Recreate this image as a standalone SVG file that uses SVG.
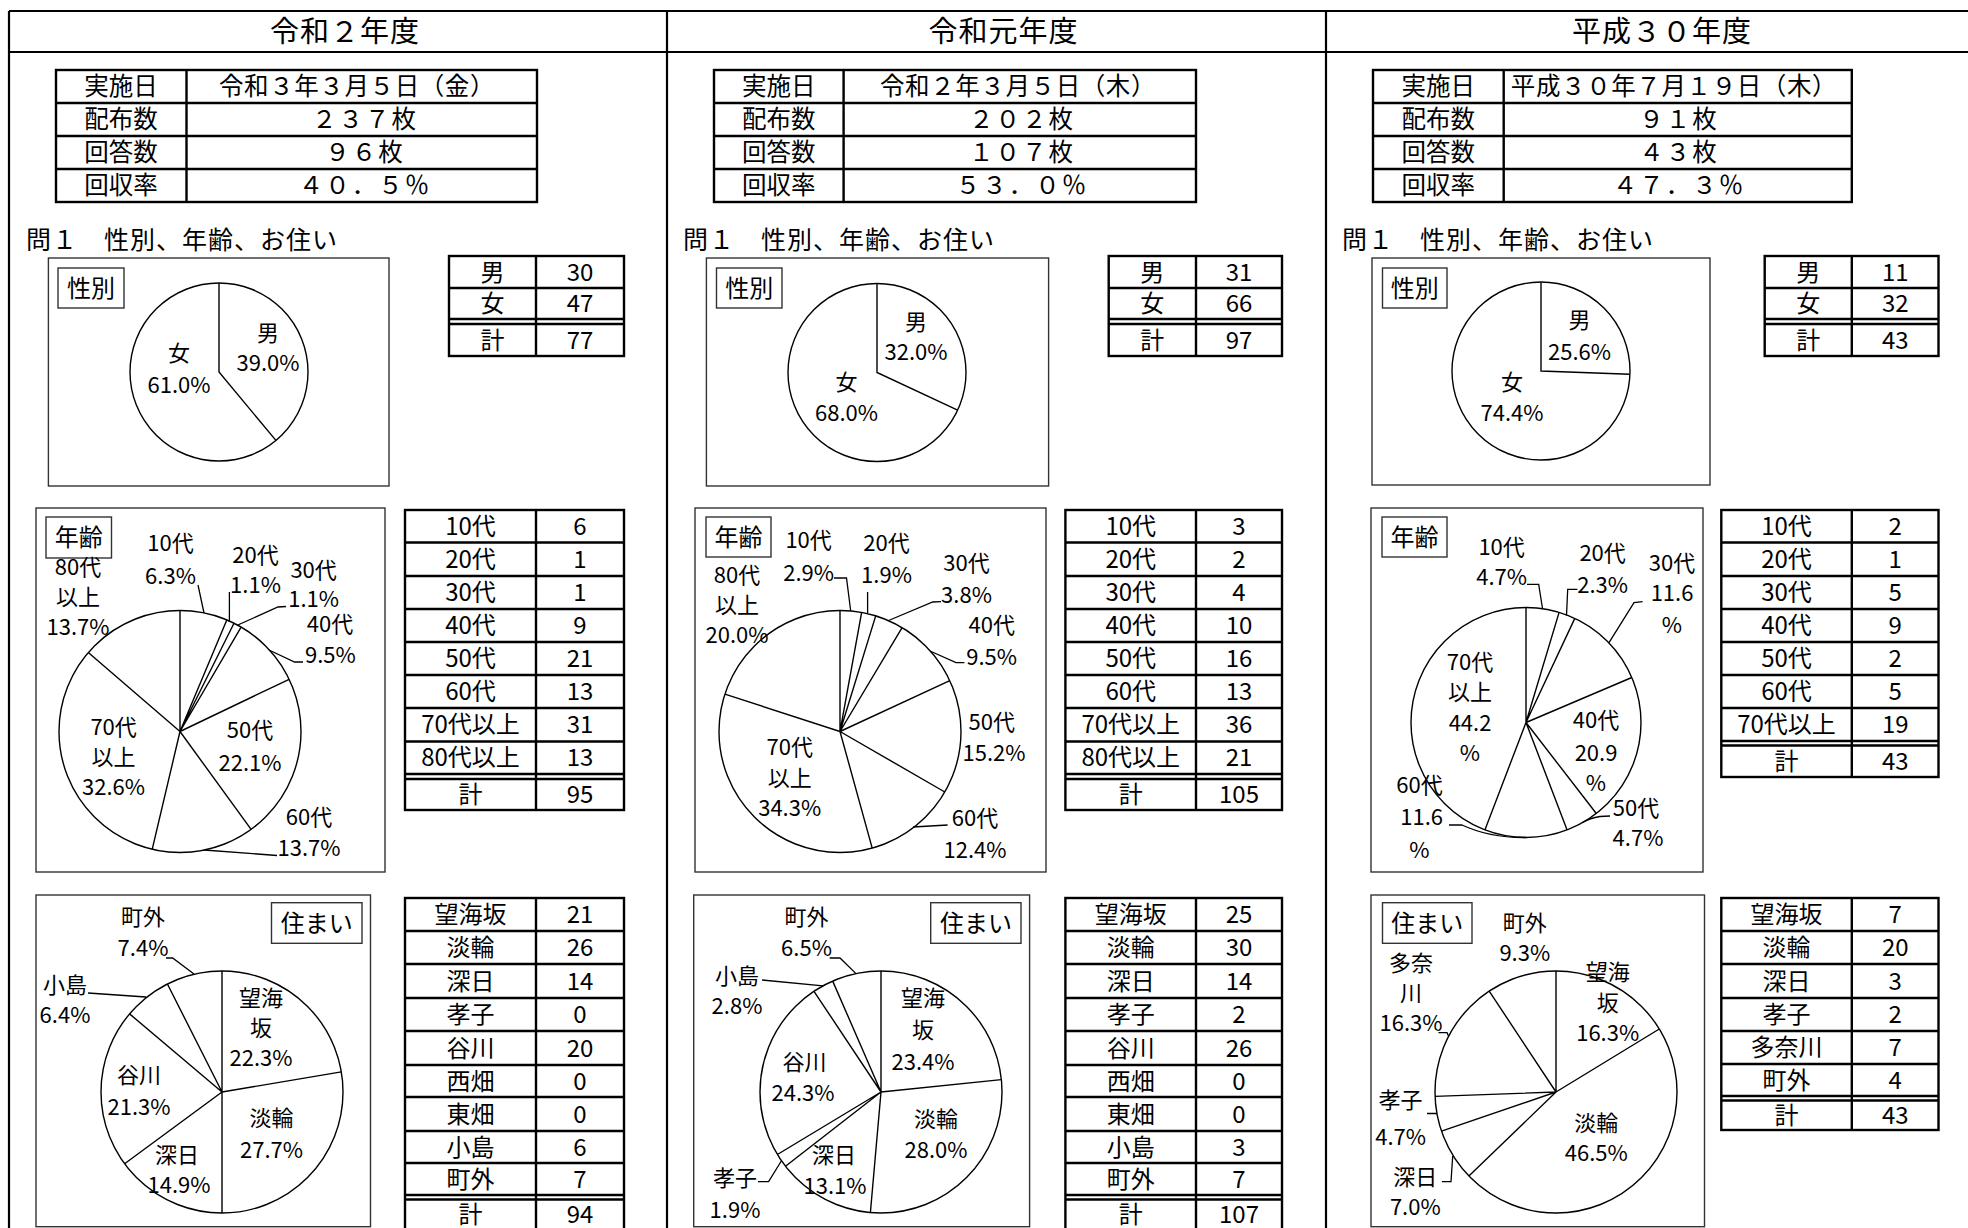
<svg xmlns="http://www.w3.org/2000/svg" width="1968" height="1228" viewBox="0 0 1968 1228">
<style>
text{font-family:'Noto Sans CJK JP','Noto Sans CJK SC',sans-serif;fill:#000;text-anchor:middle}
.ti{font-size:29px;letter-spacing:1px}
.it{font-size:24.5px}
.iv{font-size:24.5px;letter-spacing:2px}
.id{font-size:24.5px;letter-spacing:0.6px}
.q{font-size:25px;text-anchor:start;letter-spacing:1px}
.lb{font-size:24px}
.pl{font-size:22px}
.tt{font-size:24px}
.frame{stroke:#000;stroke-width:2.2;fill:none}
.tbl{stroke:#000;stroke-width:2.4;fill:none}
.box{stroke:#333;stroke-width:1.4;fill:#fff}
.pie{stroke:#000;stroke-width:1.4;fill:#fff}
.lead{stroke:#000;stroke-width:1.3;fill:none}
</style>
<rect x="0" y="0" width="1968" height="1228" fill="#fff"/>
<g id="frame">
<path class="frame" d="M9,11 H1968 M9,52 H1968 M9,11 V1228 M667,11 V1228 M1326,11 V1228"/>
<text class="ti" x="345" y="42">令和２年度</text>
<text class="ti" x="1003.5" y="42">令和元年度</text>
<text class="ti" x="1662" y="42">平成３０年度</text>
</g>

<!-- ============ Column 1 ============ -->
<g id="info1">
<rect class="tbl" x="56" y="70" width="481" height="132"/>
<path class="tbl" d="M186.5,70 V202 M56,103 H537 M56,136 H537 M56,169 H537"/>
<text class="it" x="121" y="95">実施日</text><text class="id" x="357" y="95">令和３年３月５日（金）</text>
<text class="it" x="121" y="128">配布数</text><text class="iv" x="365" y="128">２３７枚</text>
<text class="it" x="121" y="161">回答数</text><text class="iv" x="365" y="161">９６枚</text>
<text class="it" x="121" y="194">回収率</text><text class="iv" x="365" y="194">４０．５％</text>
</g>
<text class="q" x="26" y="248.5">問１　性別、年齢、お住い</text>

<g id="sex1">
<rect class="box" x="48.4" y="258" width="340.6" height="228"/>
<rect class="box" x="58" y="268" width="66" height="40"/>
<text class="lb" x="91" y="296.5">性別</text>
<circle class="pie" cx="219" cy="372" r="89"/>
<path class="pie" d="M219,283 L219,372 L275.9,440.4"/>
<text class="pl" x="268" y="341">男</text><text class="pl" x="268" y="371">39.0%</text>
<text class="pl" x="179" y="361">女</text><text class="pl" x="179" y="393">61.0%</text>
</g>
<g id="sextbl1">
<rect class="tbl" x="449" y="256" width="175" height="100"/>
<path class="tbl" d="M536,256 V356 M449,288 H624 M449,319 H624 M449,324 H624"/>
<text class="tt" x="492.5" y="280.5">男</text><text class="tt" x="580" y="280.5">30</text>
<text class="tt" x="492.5" y="312">女</text><text class="tt" x="580" y="312">47</text>
<text class="tt" x="492.5" y="348.5">計</text><text class="tt" x="580" y="348.5">77</text>
</g>

<g id="age1">
<rect class="box" x="36" y="508" width="349" height="364"/>
<circle class="pie" cx="180" cy="731.5" r="121"/>
<path class="pie" d="M180,610.5 L180,731.5 M180,731.5 L226.8,619.9 M180,731.5 L234,623.2 M180,731.5 L241.1,627.1 M180,731.5 L289.1,679.3 M180,731.5 L251.1,829.4 M180,731.5 L152.2,849.3 M180,731.5 L88.3,652.5"/>
<rect class="box" x="46" y="517" width="65.5" height="41"/>
<text class="lb" x="78.8" y="546">年齢</text>
<path class="lead" d="M198,585 L204,613 M229.4,592 L229.4,622 M286,606.5 L278,607 L237.8,625 M303,662 L294.6,662 L269,650 M277,855.5 L204,850"/>
<text class="pl" x="170.5" y="551">10代</text><text class="pl" x="170.5" y="584">6.3%</text>
<text class="pl" x="255.5" y="563">20代</text><text class="pl" x="255.5" y="593">1.1%</text>
<text class="pl" x="313.6" y="578">30代</text><text class="pl" x="313.6" y="607">1.1%</text>
<text class="pl" x="330" y="632">40代</text><text class="pl" x="330.4" y="663">9.5%</text>
<text class="pl" x="250" y="738">50代</text><text class="pl" x="250" y="771">22.1%</text>
<text class="pl" x="309" y="825">60代</text><text class="pl" x="309" y="856">13.7%</text>
<text class="pl" x="113.6" y="735">70代</text><text class="pl" x="113.6" y="765">以上</text><text class="pl" x="113.6" y="795">32.6%</text>
<text class="pl" x="78" y="575">80代</text><text class="pl" x="78" y="605">以上</text><text class="pl" x="78" y="635">13.7%</text>
</g>
<g id="agetbl1">
<rect class="tbl" x="405" y="510" width="219" height="300"/>
<path class="tbl" d="M536,510 V810 M405,542.5 H624 M405,576 H624 M405,609 H624 M405,642 H624 M405,675 H624 M405,708 H624 M405,741.5 H624 M405,774 H624 M405,779 H624"/>
<text class="tt" x="470.5" y="535">10代</text><text class="tt" x="580" y="535">6</text>
<text class="tt" x="470.5" y="568">20代</text><text class="tt" x="580" y="568">1</text>
<text class="tt" x="470.5" y="601">30代</text><text class="tt" x="580" y="601">1</text>
<text class="tt" x="470.5" y="634">40代</text><text class="tt" x="580" y="634">9</text>
<text class="tt" x="470.5" y="667">50代</text><text class="tt" x="580" y="667">21</text>
<text class="tt" x="470.5" y="700">60代</text><text class="tt" x="580" y="700">13</text>
<text class="tt" x="470.5" y="733">70代以上</text><text class="tt" x="580" y="733">31</text>
<text class="tt" x="470.5" y="766">80代以上</text><text class="tt" x="580" y="766">13</text>
<text class="tt" x="470.5" y="803">計</text><text class="tt" x="580" y="803">95</text>
</g>

<g id="res1">
<rect class="box" x="36" y="895" width="334.5" height="331.7"/>
<rect class="box" x="271.5" y="902.7" width="90.5" height="40.6"/>
<text class="lb" x="316.8" y="931.5">住まい</text>
<circle class="pie" cx="222" cy="1092" r="121"/>
<path class="pie" d="M222,971 L222,1092 M222,1092 L341.3,1071.9 M222,1092 L222,1213 M222,1092 L124.6,1163.8 M222,1092 L129.6,1013.9 M222,1092 L167.4,984"/>
<path class="lead" d="M88,993 L146,997 M166,958 L172.6,958 L194,974"/>
<text class="pl" x="261" y="1006">望海</text><text class="pl" x="261" y="1036">坂</text><text class="pl" x="261" y="1066">22.3%</text>
<text class="pl" x="271.5" y="1126">淡輪</text><text class="pl" x="271.5" y="1158">27.7%</text>
<text class="pl" x="177" y="1163">深日</text><text class="pl" x="179" y="1193">14.9%</text>
<text class="pl" x="139" y="1083">谷川</text><text class="pl" x="139" y="1115">21.3%</text>
<text class="pl" x="65" y="993">小島</text><text class="pl" x="65" y="1023">6.4%</text>
<text class="pl" x="143" y="925">町外</text><text class="pl" x="143" y="956">7.4%</text>
</g>
<g id="restbl1">
<rect class="tbl" x="405" y="898" width="219" height="334"/>
<path class="tbl" d="M536,898 V1232 M405,931 H624 M405,964 H624 M405,998 H624 M405,1031 H624 M405,1065 H624 M405,1097 H624 M405,1131 H624 M405,1163 H624 M405,1195 H624 M405,1199.5 H624"/>
<text class="tt" x="470.5" y="923">望海坂</text><text class="tt" x="580" y="923">21</text>
<text class="tt" x="470.5" y="956">淡輪</text><text class="tt" x="580" y="956">26</text>
<text class="tt" x="470.5" y="989.5">深日</text><text class="tt" x="580" y="989.5">14</text>
<text class="tt" x="470.5" y="1023">孝子</text><text class="tt" x="580" y="1023">0</text>
<text class="tt" x="470.5" y="1056.5">谷川</text><text class="tt" x="580" y="1056.5">20</text>
<text class="tt" x="470.5" y="1089.5">西畑</text><text class="tt" x="580" y="1089.5">0</text>
<text class="tt" x="470.5" y="1122.5">東畑</text><text class="tt" x="580" y="1122.5">0</text>
<text class="tt" x="470.5" y="1155.5">小島</text><text class="tt" x="580" y="1155.5">6</text>
<text class="tt" x="470.5" y="1187.5">町外</text><text class="tt" x="580" y="1187.5">7</text>
<text class="tt" x="470.5" y="1223">計</text><text class="tt" x="580" y="1223">94</text>
</g>

<!-- ============ Column 2 ============ -->
<g id="info2">
<rect class="tbl" x="714" y="70" width="482" height="132"/>
<path class="tbl" d="M843.6,70 V202 M714,103 H1196 M714,136 H1196 M714,169 H1196"/>
<text class="it" x="778.8" y="95">実施日</text><text class="id" x="1018" y="95">令和２年３月５日（木）</text>
<text class="it" x="778.8" y="128">配布数</text><text class="iv" x="1022" y="128">２０２枚</text>
<text class="it" x="778.8" y="161">回答数</text><text class="iv" x="1022" y="161">１０７枚</text>
<text class="it" x="778.8" y="194">回収率</text><text class="iv" x="1022" y="194">５３．０％</text>
</g>
<text class="q" x="683" y="248.5">問１　性別、年齢、お住い</text>

<g id="sex2">
<rect class="box" x="706.4" y="258" width="342.2" height="228"/>
<rect class="box" x="716.5" y="268" width="65.5" height="40"/>
<text class="lb" x="749.2" y="296.5">性別</text>
<circle class="pie" cx="877" cy="372.5" r="89"/>
<path class="pie" d="M877,283.5 L877,372.5 L957.6,410.2"/>
<text class="pl" x="916" y="330">男</text><text class="pl" x="916" y="360">32.0%</text>
<text class="pl" x="846.5" y="390">女</text><text class="pl" x="846.5" y="421">68.0%</text>
</g>
<g id="sextbl2">
<rect class="tbl" x="1108.7" y="256" width="173.3" height="100"/>
<path class="tbl" d="M1196,256 V356 M1108.7,288 H1282 M1108.7,319 H1282 M1108.7,324 H1282"/>
<text class="tt" x="1152.3" y="280.5">男</text><text class="tt" x="1239" y="280.5">31</text>
<text class="tt" x="1152.3" y="312">女</text><text class="tt" x="1239" y="312">66</text>
<text class="tt" x="1152.3" y="348.5">計</text><text class="tt" x="1239" y="348.5">97</text>
</g>

<g id="age2">
<rect class="box" x="695" y="508" width="351" height="364"/>
<circle class="pie" cx="840" cy="731.5" r="121"/>
<path class="pie" d="M840,610.5 L840,731.5 M840,731.5 L861.6,612.5 M840,731.5 L875.7,615.9 M840,731.5 L902.1,627.6 M840,731.5 L949.8,680.6 M840,731.5 L944.8,792 M840,731.5 L872.2,848.1 M840,731.5 L724.9,694.1"/>
<rect class="box" x="706" y="517" width="65" height="40"/>
<text class="lb" x="738.5" y="545.5">年齢</text>
<path class="lead" d="M834,578 L846.5,578 L850.7,611 M867.6,592 L867.6,613 M941,601.7 L932.8,602 L888.6,620.5 M964.4,662.7 L956,662.7 L930,651 M947.6,825 L913,827"/>
<text class="pl" x="808.6" y="548">10代</text><text class="pl" x="808.6" y="581">2.9%</text>
<text class="pl" x="886.5" y="551">20代</text><text class="pl" x="886.5" y="583">1.9%</text>
<text class="pl" x="966.5" y="571">30代</text><text class="pl" x="966.5" y="603">3.8%</text>
<text class="pl" x="991.7" y="633">40代</text><text class="pl" x="991.7" y="665">9.5%</text>
<text class="pl" x="991.7" y="730">50代</text><text class="pl" x="994" y="761">15.2%</text>
<text class="pl" x="975" y="826">60代</text><text class="pl" x="975" y="858">12.4%</text>
<text class="pl" x="789.7" y="755">70代</text><text class="pl" x="789.7" y="786">以上</text><text class="pl" x="789.7" y="816">34.3%</text>
<text class="pl" x="737" y="583">80代</text><text class="pl" x="737" y="613">以上</text><text class="pl" x="737" y="643">20.0%</text>
</g>
<g id="agetbl2">
<rect class="tbl" x="1065.4" y="510" width="216.6" height="300"/>
<path class="tbl" d="M1196,510 V810 M1065.4,542.5 H1282 M1065.4,576 H1282 M1065.4,609 H1282 M1065.4,642 H1282 M1065.4,675 H1282 M1065.4,708 H1282 M1065.4,741.5 H1282 M1065.4,774 H1282 M1065.4,779 H1282"/>
<text class="tt" x="1130.7" y="535">10代</text><text class="tt" x="1239" y="535">3</text>
<text class="tt" x="1130.7" y="568">20代</text><text class="tt" x="1239" y="568">2</text>
<text class="tt" x="1130.7" y="601">30代</text><text class="tt" x="1239" y="601">4</text>
<text class="tt" x="1130.7" y="634">40代</text><text class="tt" x="1239" y="634">10</text>
<text class="tt" x="1130.7" y="667">50代</text><text class="tt" x="1239" y="667">16</text>
<text class="tt" x="1130.7" y="700">60代</text><text class="tt" x="1239" y="700">13</text>
<text class="tt" x="1130.7" y="733">70代以上</text><text class="tt" x="1239" y="733">36</text>
<text class="tt" x="1130.7" y="766">80代以上</text><text class="tt" x="1239" y="766">21</text>
<text class="tt" x="1130.7" y="803">計</text><text class="tt" x="1239" y="803">105</text>
</g>

<g id="res2">
<rect class="box" x="693.7" y="895" width="335.9" height="331.7"/>
<rect class="box" x="930.7" y="902.7" width="90.3" height="40.6"/>
<text class="lb" x="975.9" y="931.5">住まい</text>
<circle class="pie" cx="881" cy="1092" r="121"/>
<path class="pie" d="M881,971 L881,1092 M881,1092 L1001.4,1079.6 M881,1092 L870.4,1212.5 M881,1092 L785.5,1166.3 M881,1092 L777.4,1154.5 M881,1092 L814,991.3 M881,1092 L832.7,981.1"/>
<path class="lead" d="M758,1181.7 L768.6,1181.7 L781.3,1161 M762,980 L823,985.8 M829.7,958 L840,958 L856,973.6"/>
<text class="pl" x="923" y="1006">望海</text><text class="pl" x="923" y="1038">坂</text><text class="pl" x="923" y="1070">23.4%</text>
<text class="pl" x="936" y="1127">淡輪</text><text class="pl" x="936" y="1158">28.0%</text>
<text class="pl" x="834" y="1163">深日</text><text class="pl" x="835" y="1194">13.1%</text>
<text class="pl" x="735" y="1186">孝子</text><text class="pl" x="735" y="1218">1.9%</text>
<text class="pl" x="804.5" y="1070">谷川</text><text class="pl" x="803" y="1101">24.3%</text>
<text class="pl" x="737" y="984">小島</text><text class="pl" x="737" y="1014">2.8%</text>
<text class="pl" x="806.5" y="925">町外</text><text class="pl" x="806.5" y="956">6.5%</text>
</g>
<g id="restbl2">
<rect class="tbl" x="1065.4" y="898" width="216.6" height="334"/>
<path class="tbl" d="M1196,898 V1232 M1065.4,931 H1282 M1065.4,964 H1282 M1065.4,998 H1282 M1065.4,1031 H1282 M1065.4,1065 H1282 M1065.4,1097 H1282 M1065.4,1131 H1282 M1065.4,1163 H1282 M1065.4,1195 H1282 M1065.4,1199.5 H1282"/>
<text class="tt" x="1130.7" y="923">望海坂</text><text class="tt" x="1239" y="923">25</text>
<text class="tt" x="1130.7" y="956">淡輪</text><text class="tt" x="1239" y="956">30</text>
<text class="tt" x="1130.7" y="989.5">深日</text><text class="tt" x="1239" y="989.5">14</text>
<text class="tt" x="1130.7" y="1023">孝子</text><text class="tt" x="1239" y="1023">2</text>
<text class="tt" x="1130.7" y="1056.5">谷川</text><text class="tt" x="1239" y="1056.5">26</text>
<text class="tt" x="1130.7" y="1089.5">西畑</text><text class="tt" x="1239" y="1089.5">0</text>
<text class="tt" x="1130.7" y="1122.5">東畑</text><text class="tt" x="1239" y="1122.5">0</text>
<text class="tt" x="1130.7" y="1155.5">小島</text><text class="tt" x="1239" y="1155.5">3</text>
<text class="tt" x="1130.7" y="1187.5">町外</text><text class="tt" x="1239" y="1187.5">7</text>
<text class="tt" x="1130.7" y="1223">計</text><text class="tt" x="1239" y="1223">107</text>
</g>

<!-- ============ Column 3 ============ -->
<g id="info3">
<rect class="tbl" x="1373" y="70" width="478.8" height="132"/>
<path class="tbl" d="M1503.7,70 V202 M1373,103 H1851.8 M1373,136 H1851.8 M1373,169 H1851.8"/>
<text class="it" x="1438.3" y="95">実施日</text><text class="id" x="1674" y="95">平成３０年７月１９日（木）</text>
<text class="it" x="1438.3" y="128">配布数</text><text class="iv" x="1679" y="128">９１枚</text>
<text class="it" x="1438.3" y="161">回答数</text><text class="iv" x="1679" y="161">４３枚</text>
<text class="it" x="1438.3" y="194">回収率</text><text class="iv" x="1679" y="194">４７．３％</text>
</g>
<text class="q" x="1342" y="248.5">問１　性別、年齢、お住い</text>

<g id="sex3">
<rect class="box" x="1372" y="258" width="338" height="227"/>
<rect class="box" x="1382.5" y="268" width="64.5" height="40"/>
<text class="lb" x="1414.8" y="296.5">性別</text>
<circle class="pie" cx="1541" cy="371" r="89"/>
<path class="pie" d="M1541,282 L1541,371 L1629.9,374.2"/>
<text class="pl" x="1579.5" y="328">男</text><text class="pl" x="1579.5" y="360">25.6%</text>
<text class="pl" x="1512" y="390">女</text><text class="pl" x="1512" y="421">74.4%</text>
</g>
<g id="sextbl3">
<rect class="tbl" x="1764.7" y="256" width="173.8" height="100"/>
<path class="tbl" d="M1851.8,256 V356 M1764.7,288 H1938.5 M1764.7,319 H1938.5 M1764.7,324 H1938.5"/>
<text class="tt" x="1808.2" y="280.5">男</text><text class="tt" x="1895.2" y="280.5">11</text>
<text class="tt" x="1808.2" y="312">女</text><text class="tt" x="1895.2" y="312">32</text>
<text class="tt" x="1808.2" y="348.5">計</text><text class="tt" x="1895.2" y="348.5">43</text>
</g>

<g id="age3">
<rect class="box" x="1371" y="508" width="332" height="364"/>
<circle class="pie" cx="1526" cy="722.5" r="115"/>
<path class="pie" d="M1526,607.5 L1526,722.5 M1526,722.5 L1559.1,612.4 M1526,722.5 L1574.8,618.4 M1526,722.5 L1631.8,677.5 M1526,722.5 L1596.3,813.5 M1526,722.5 L1567.1,829.9 M1526,722.5 L1484.9,829.9"/>
<rect class="box" x="1382" y="517" width="65" height="40"/>
<text class="lb" x="1414.5" y="545.5">年齢</text>
<path class="lead" d="M1527,584.3 L1538.7,584.3 L1542.5,608.5 M1577.4,589.3 L1567.7,589.3 L1566.5,615.5 M1642.6,601.7 L1634,602.7 L1609,642.7 M1610,816 L1600,816.5 Q1590,818 1582.3,822.8 M1449,825 L1462,825 Q1490,838 1526,837.5"/>
<text class="pl" x="1501.6" y="555">10代</text><text class="pl" x="1501.6" y="585">4.7%</text>
<text class="pl" x="1602.6" y="561">20代</text><text class="pl" x="1602.6" y="593">2.3%</text>
<text class="pl" x="1672" y="571">30代</text><text class="pl" x="1672" y="601">11.6</text><text class="pl" x="1672" y="633">%</text>
<text class="pl" x="1596" y="728">40代</text><text class="pl" x="1596" y="761">20.9</text><text class="pl" x="1596" y="791">%</text>
<text class="pl" x="1636" y="816">50代</text><text class="pl" x="1638" y="846">4.7%</text>
<text class="pl" x="1419.5" y="793">60代</text><text class="pl" x="1421.6" y="825">11.6</text><text class="pl" x="1419.5" y="858">%</text>
<text class="pl" x="1470" y="670">70代</text><text class="pl" x="1470" y="700">以上</text><text class="pl" x="1470" y="731">44.2</text><text class="pl" x="1470" y="761">%</text>
</g>
<g id="agetbl3">
<rect class="tbl" x="1721.3" y="510" width="217.2" height="267"/>
<path class="tbl" d="M1851.8,510 V777 M1721.3,542.5 H1938.5 M1721.3,576 H1938.5 M1721.3,609 H1938.5 M1721.3,642 H1938.5 M1721.3,675 H1938.5 M1721.3,708 H1938.5 M1721.3,741 H1938.5 M1721.3,745.5 H1938.5"/>
<text class="tt" x="1786.5" y="535">10代</text><text class="tt" x="1895.2" y="535">2</text>
<text class="tt" x="1786.5" y="568">20代</text><text class="tt" x="1895.2" y="568">1</text>
<text class="tt" x="1786.5" y="601">30代</text><text class="tt" x="1895.2" y="601">5</text>
<text class="tt" x="1786.5" y="634">40代</text><text class="tt" x="1895.2" y="634">9</text>
<text class="tt" x="1786.5" y="667">50代</text><text class="tt" x="1895.2" y="667">2</text>
<text class="tt" x="1786.5" y="700">60代</text><text class="tt" x="1895.2" y="700">5</text>
<text class="tt" x="1786.5" y="733">70代以上</text><text class="tt" x="1895.2" y="733">19</text>
<text class="tt" x="1786.5" y="770">計</text><text class="tt" x="1895.2" y="770">43</text>
</g>

<g id="res3">
<rect class="box" x="1371" y="895" width="333.5" height="331.7"/>
<rect class="box" x="1382.5" y="902.7" width="89.5" height="40.6"/>
<text class="lb" x="1427.2" y="931.5">住まい</text>
<circle class="pie" cx="1556" cy="1092" r="121"/>
<path class="pie" d="M1556,971 L1556,1092 M1556,1092 L1659.3,1029 M1556,1092 L1468.9,1176 M1556,1092 L1441.5,1131.1 M1556,1092 L1435.1,1096.4 M1556,1092 L1489.2,991.1"/>
<path class="lead" d="M1441.9,1181.7 L1451,1181.7 L1452.7,1156 M1427,1113.5 L1437,1113.5 M1438.5,1032.7 L1447,1032.7 L1448.5,1036"/>
<text class="pl" x="1524.8" y="931">町外</text><text class="pl" x="1524.8" y="961">9.3%</text>
<text class="pl" x="1607.7" y="980">望海</text><text class="pl" x="1607.7" y="1011">坂</text><text class="pl" x="1607.7" y="1041">16.3%</text>
<text class="pl" x="1596.3" y="1131">淡輪</text><text class="pl" x="1596.3" y="1161">46.5%</text>
<text class="pl" x="1415.3" y="1185">深日</text><text class="pl" x="1415.3" y="1215">7.0%</text>
<text class="pl" x="1400.6" y="1108">孝子</text><text class="pl" x="1400.6" y="1145">4.7%</text>
<text class="pl" x="1411" y="971">多奈</text><text class="pl" x="1411" y="1001">川</text><text class="pl" x="1411" y="1031">16.3%</text>
</g>
<g id="restbl3">
<rect class="tbl" x="1721.3" y="898" width="217.2" height="232"/>
<path class="tbl" d="M1851.8,898 V1130 M1721.3,931 H1938.5 M1721.3,964 H1938.5 M1721.3,998 H1938.5 M1721.3,1031 H1938.5 M1721.3,1064 H1938.5 M1721.3,1096 H1938.5 M1721.3,1100.5 H1938.5"/>
<text class="tt" x="1786.5" y="923">望海坂</text><text class="tt" x="1895.2" y="923">7</text>
<text class="tt" x="1786.5" y="956">淡輪</text><text class="tt" x="1895.2" y="956">20</text>
<text class="tt" x="1786.5" y="989.5">深日</text><text class="tt" x="1895.2" y="989.5">3</text>
<text class="tt" x="1786.5" y="1023">孝子</text><text class="tt" x="1895.2" y="1023">2</text>
<text class="tt" x="1786.5" y="1056">多奈川</text><text class="tt" x="1895.2" y="1056">7</text>
<text class="tt" x="1786.5" y="1088.5">町外</text><text class="tt" x="1895.2" y="1088.5">4</text>
<text class="tt" x="1786.5" y="1124">計</text><text class="tt" x="1895.2" y="1124">43</text>
</g>
</svg>
